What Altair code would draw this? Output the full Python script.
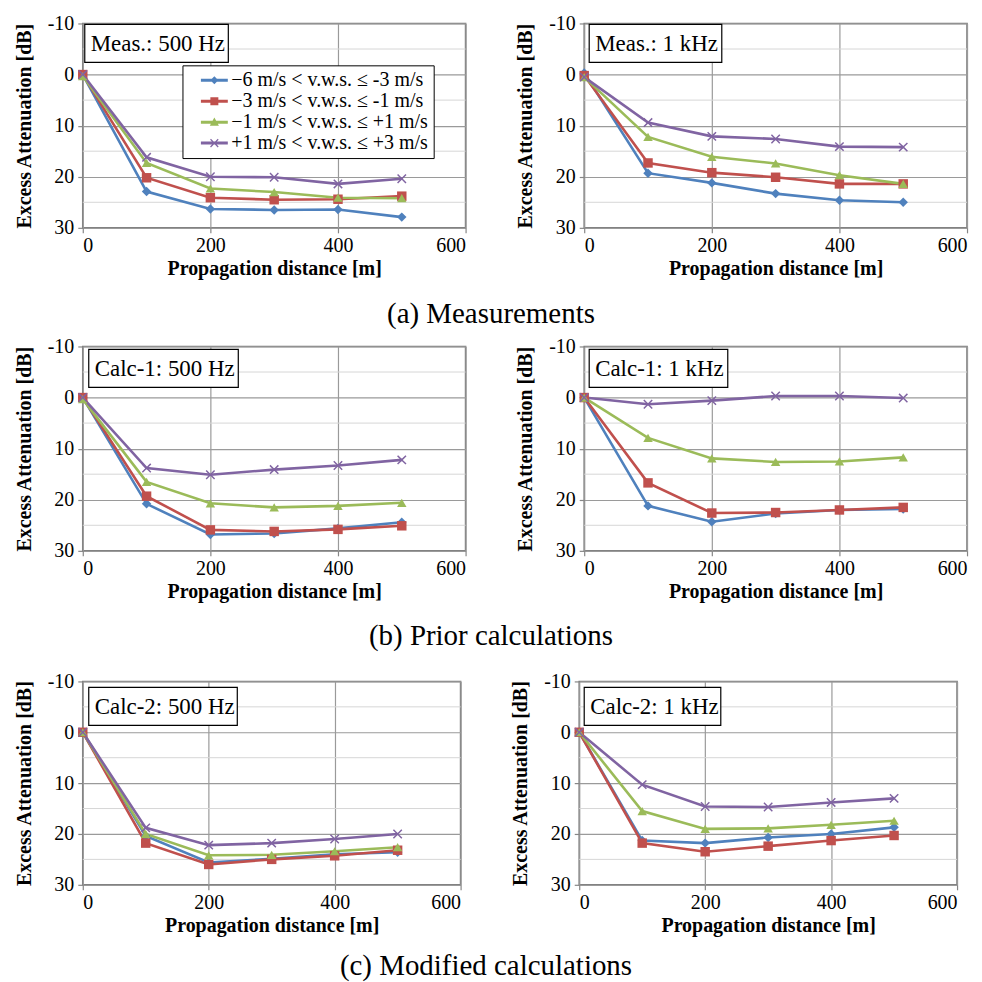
import altair as alt
import pandas as pd

# ---------------- data ----------------
distance = [0, 100, 200, 300, 400, 500]
series = [
    "\u22126 m/s < v.w.s. \u2264 -3 m/s",
    "\u22123 m/s < v.w.s. \u2264 -1 m/s",
    "\u22121 m/s < v.w.s. \u2264 +1 m/s",
    "+1 m/s < v.w.s. \u2264 +3 m/s",
]
colors = ["#4F81BD", "#C0504D", "#9BBB59", "#8064A2"]
x_marker = "M-1,-0.78L-0.78,-1L0,-0.22L0.78,-1L1,-0.78L0.22,0L1,0.78L0.78,1L0,0.22L-0.78,1L-1,0.78L-0.22,0Z"
shapes = ["diamond", "square", "triangle-up", x_marker]

# legend glyphs: short line with the marker on it
leg_line = "M-1.35,-0.15L1.35,-0.15L1.35,0.15L-1.35,0.15Z"
legend_shapes = [
    leg_line + "M-0.4,0L0,-0.4L0.4,0L0,0.4Z",
    leg_line + "M-0.4,-0.4L0.4,-0.4L0.4,0.4L-0.4,0.4Z",
    leg_line + "M0,-0.46L0.46,0.35L-0.46,0.35Z",
    leg_line + "M-0.43,-0.34L-0.34,-0.43L0,-0.09L0.34,-0.43L0.43,-0.34L0.09,0L0.43,0.34L0.34,0.43L0,0.09L-0.34,0.43L-0.43,0.34L-0.09,0Z",
]

meas_500_s1 = [0.0, 22.9, 26.3, 26.5, 26.4, 27.9]
meas_500_s2 = [0.0, 20.2, 24.1, 24.5, 24.4, 23.8]
meas_500_s3 = [0.3, 17.3, 22.3, 23.0, 24.1, 24.2]
meas_500_s4 = [0.0, 16.2, 20.0, 20.1, 21.4, 20.4]

meas_1k_s1 = [-0.3, 19.3, 21.2, 23.3, 24.6, 25.0]
meas_1k_s2 = [0.2, 17.3, 19.2, 20.1, 21.4, 21.4]
meas_1k_s3 = [0.5, 12.2, 16.1, 17.4, 19.7, 21.4]
meas_1k_s4 = [0.5, 9.4, 12.1, 12.6, 14.1, 14.2]

calc1_500_s1 = [0.0, 20.8, 26.8, 26.6, 25.6, 24.4]
calc1_500_s2 = [0.0, 19.3, 25.9, 26.2, 25.8, 25.1]
calc1_500_s3 = [0.3, 16.5, 20.7, 21.5, 21.2, 20.6]
calc1_500_s4 = [0.0, 13.8, 15.1, 14.1, 13.3, 12.2]

calc1_1k_s1 = [0.0, 21.2, 24.3, 22.7, 22.0, 21.8]
calc1_1k_s2 = [0.0, 16.7, 22.6, 22.5, 22.0, 21.5]
calc1_1k_s3 = [0.0, 7.9, 11.9, 12.6, 12.5, 11.7]
calc1_1k_s4 = [0.0, 1.3, 0.6, -0.3, -0.3, 0.1]

calc2_500_s1 = [0.0, 20.4, 25.6, 24.9, 24.0, 23.6]
calc2_500_s2 = [0.0, 21.8, 26.0, 25.0, 24.3, 23.2]
calc2_500_s3 = [0.0, 20.0, 24.2, 24.1, 23.4, 22.6]
calc2_500_s4 = [0.0, 18.8, 22.2, 21.8, 21.0, 20.0]

calc2_1k_s1 = [0.0, 21.3, 21.8, 20.7, 20.0, 18.7]
calc2_1k_s2 = [0.0, 21.8, 23.5, 22.4, 21.3, 20.3]
calc2_1k_s3 = [0.0, 15.5, 19.0, 18.9, 18.2, 17.4]
calc2_1k_s4 = [0.0, 10.3, 14.6, 14.7, 13.8, 13.0]

panel_labels = ["Meas.: 500 Hz", "Meas.: 1 kHz", "Calc-1: 500 Hz",
                "Calc-1: 1 kHz", "Calc-2: 500 Hz", "Calc-2: 1 kHz"]
captions = ["(a) Measurements", "(b) Prior calculations", "(c) Modified calculations"]

y_ticks = [-10, 0, 10, 20, 30]
y_minor = [-5, 5, 15, 25]
x_ticks = [0, 200, 400, 600]

panels_data = [
    [meas_500_s1, meas_500_s2, meas_500_s3, meas_500_s4],
    [meas_1k_s1, meas_1k_s2, meas_1k_s3, meas_1k_s4],
    [calc1_500_s1, calc1_500_s2, calc1_500_s3, calc1_500_s4],
    [calc1_1k_s1, calc1_1k_s2, calc1_1k_s3, calc1_1k_s4],
    [calc2_500_s1, calc2_500_s2, calc2_500_s3, calc2_500_s4],
    [calc2_1k_s1, calc2_1k_s2, calc2_1k_s3, calc2_1k_s4],
]

# label-box placement (pixels inside each plot area)
box_x = [2, 5, 6, 5, 6, 5]
box_y = [1, 1, 3, 3, 6, 6]
box_w = [144, 133, 150, 139, 149, 137]
box_h = 38

SERIF = "Liberation Serif"


def long_df(vals):
    rows = []
    for s, name in enumerate(series):
        for d, v in zip(distance, vals[s]):
            rows.append({"distance": d, "att": v, "series": name})
    return pd.DataFrame(rows)


def panel(idx, w, h, legend):
    df = long_df(panels_data[idx])
    xs = alt.X("distance:Q", scale=alt.Scale(domain=[0, 600], nice=False),
               axis=alt.Axis(values=x_ticks, title="Propagation distance [m]",
                             labelPadding=3, titlePadding=3))
    ys = alt.Y("att:Q", scale=alt.Scale(domain=[-10, 30], reverse=True, nice=False),
               axis=alt.Axis(values=y_ticks, title="Excess Attenuation [dB]",
                             labelExpr="'' + datum.value", labelPadding=4,
                             titlePadding=13))
    cscale = alt.Scale(domain=series, range=colors)
    sscale = alt.Scale(domain=series, range=shapes)

    minor = alt.Chart(pd.DataFrame({"att": y_minor})).mark_rule(
        color="#d6d6d6", strokeWidth=1).encode(y=ys)

    lines = alt.Chart(df).mark_line(strokeWidth=2.6).encode(
        x=xs, y=ys,
        color=alt.Color("series:N", scale=cscale, legend=None),
        order="distance:Q",
    )
    pts = alt.Chart(df).mark_point(filled=True, opacity=1, size=90).encode(
        x=xs, y=ys,
        color=alt.Color("series:N", scale=cscale, legend=None),
        shape=alt.Shape("series:N", scale=sscale, legend=None),
    )
    box_df = pd.DataFrame({"label": [panel_labels[idx]]})
    x0, y0 = box_x[idx], box_y[idx]
    box = alt.Chart(box_df).mark_rect(fill="white", stroke="black", strokeWidth=1.2).encode(
        x=alt.value(x0), x2=alt.value(x0 + box_w[idx]), y=alt.value(y0), y2=alt.value(y0 + box_h))
    txt = alt.Chart(box_df).mark_text(align="left", baseline="middle", font=SERIF,
                                      fontSize=23, color="black").encode(
        x=alt.value(x0 + 6), y=alt.value(y0 + box_h / 2 + 1), text="label:N")
    layers = [minor, lines, pts, box, txt]
    if legend:
        leg = alt.Legend(orient="none", legendX=100, legendY=42, title=None,
                         labelFont=SERIF, labelFontSize=20, labelColor="black",
                         labelLimit=0, strokeColor="black", fillColor="white",
                         padding=5, rowPadding=1, symbolSize=400, symbolOffset=17,
                         symbolStrokeWidth=0, labelOffset=7)
        leg_layer = alt.Chart(df).transform_filter("false").mark_point(
            filled=True, opacity=1).encode(
            color=alt.Color("series:N", scale=cscale, legend=leg),
            shape=alt.Shape("series:N", scale=alt.Scale(domain=series, range=legend_shapes), legend=leg),
        )
        layers.append(leg_layer)
    return alt.layer(*layers).resolve_scale(
        color="independent", shape="independent").properties(width=w, height=h)


def row(i, w, h, caption, offset):
    left = panel(2 * i, w, h, legend=(i == 0))
    right = panel(2 * i + 1, w, h, legend=False)
    return alt.hconcat(left, right, spacing=47).properties(
        title=alt.TitleParams(caption, orient="bottom", anchor="middle", font=SERIF,
                              fontSize=29, fontWeight="normal", color="black",
                              offset=offset))


r1 = row(0, 384, 205, captions[0], 21)
r2 = row(1, 384, 205, captions[1], 20)
r3 = row(2, 379, 204, captions[2], 16)

chart = alt.vconcat(alt.vconcat(r1, r2, spacing=6), r3, spacing=19,
                    background="white",
                    padding={"left": 5, "top": 3, "right": 5, "bottom": 5}).resolve_scale(
    color="independent", shape="independent"
).resolve_legend(color="independent", shape="independent").configure_axis(
    labelFont=SERIF, labelFontSize=20, labelColor="black",
    titleFont=SERIF, titleFontSize=20, titleFontWeight="bold", titleColor="black",
    domain=False, tickColor="#868686", tickSize=5, tickWidth=1.2,
    gridColor="#9a9a9a", gridWidth=1.2,
).configure_view(stroke="#7a7a7a", strokeWidth=1.6)

chart.save("out.html", embed_options={"renderer": "svg", "actions": False})
